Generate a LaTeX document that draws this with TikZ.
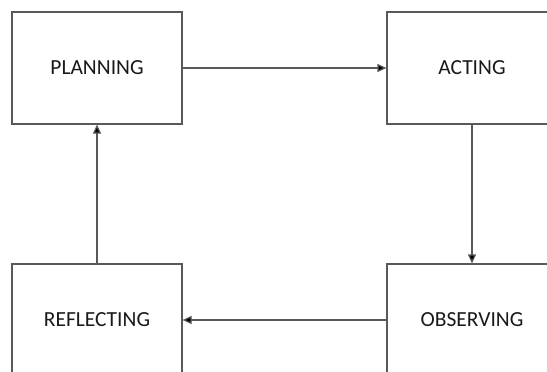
\documentclass[tikz,border=0pt]{standalone}
\usepackage{fontspec}
\setmainfont{Carlito}
\usetikzlibrary{arrows.meta}

\begin{document}
\begin{tikzpicture}[x=1pt, y=1pt,
    stage/.style={rectangle, draw=black!65, line width=1.2pt, minimum width=170pt, minimum height=112pt, font=\fontsize{21.5}{26}\selectfont, text=black!90},
    flow/.style={draw=black!65, line width=1.2pt, -{Triangle[length=9pt,width=8pt,fill=black]}}]
            \useasboundingbox (0,0) rectangle (547,-372);
            \clip (0,0) rectangle (547,-372);
            % Nodes
            \node[stage] (plan) at (97,-68) {PLANNING};
            \node[stage] (act) at (472,-68) {ACTING};
            \node[stage] (obs) at (472,-320) {OBSERVING};
            \node[stage] (refl) at (97,-320) {REFLECTING};

            % Edges
            \draw[flow] (plan) -- (act);
            \draw[flow] (act) -- (obs);
            \draw[flow] (obs) -- (refl);
            \draw[flow] (refl) -- (plan);
        \end{tikzpicture}
\end{document}
